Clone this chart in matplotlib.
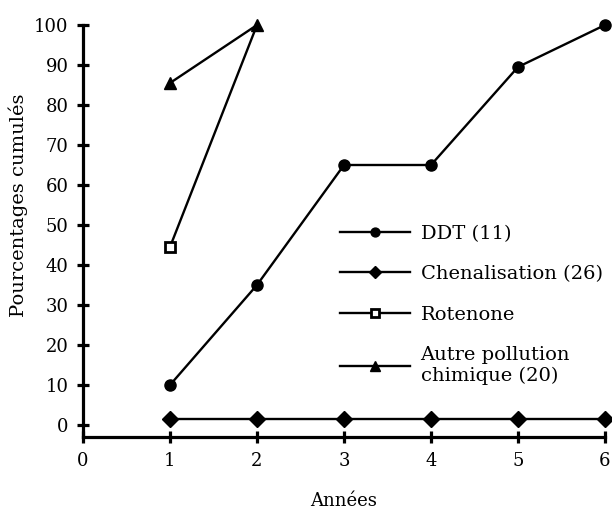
import matplotlib.pyplot as plt

plt.rcParams['font.family'] = ['DejaVu Serif']

annees = [1, 2, 3, 4, 5, 6]
ddt = [10, 35, 65, 65, 89.5, 100]
chenalisation = [1.5, 1.5, 1.5, 1.5, 1.5, 1.5]
rot_annees = [1, 2]
rotenone = [44.5, 100]
autre_annees = [1, 2]
autre = [85.5, 100]

fig = plt.figure(figsize=(6.12, 5.11), dpi=100)
ax = fig.add_axes([83 / 612, 74 / 511, 522 / 612, 412 / 511])

ax.plot(annees, ddt, '-o', color='black', lw=1.7, ms=8, label='DDT (11)', clip_on=False)
ax.plot(annees, chenalisation, '-D', color='black', lw=1.7, ms=8, label='Chenalisation (26)', clip_on=False)
ax.plot(rot_annees, rotenone, '-s', color='black', lw=1.7, ms=7, mfc='white', mew=2,
        markevery=[0], label='Rotenone', clip_on=False)
ax.plot(autre_annees, autre, '-^', color='black', lw=1.7, ms=9,
        label='Autre pollution\nchimique (20)', clip_on=False)

ax.set_xlim(0, 6)
ax.set_ylim(-3, 100)
ax.set_xticks(range(0, 7))
ax.set_yticks(range(0, 101, 10))
ax.spines['top'].set_visible(False)
ax.spines['right'].set_visible(False)
ax.spines['left'].set_linewidth(2.3)
ax.spines['bottom'].set_linewidth(2.3)
ax.tick_params(direction='inout', length=9, width=2.3, labelsize=13, pad=6)

ax.set_xlabel('Années', fontsize=13, labelpad=16)
ax.set_ylabel('Pourcentages cumulés', fontsize=14)
ax.yaxis.set_label_coords(-0.106, 0.563)

ax.legend(loc='upper left', bbox_to_anchor=(0.492, 0.515), frameon=False, fontsize=14,
          handlelength=3.6, labelspacing=1.15, handletextpad=0.55, borderaxespad=0,
          borderpad=0, markerscale=0.8)

fig.savefig('out.png', dpi=100)
